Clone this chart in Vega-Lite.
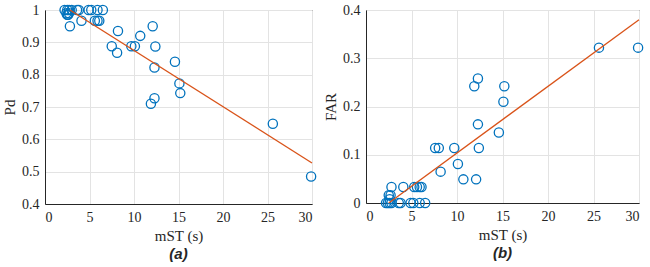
{
  "$schema": "https://vega.github.io/schema/vega-lite/v6.json",
  "background": "white",
  "padding": {"left": 2, "top": 2, "right": 5, "bottom": 0},
  "spacing": 4,
  "config": {
    "view": {"stroke": "#262626", "strokeWidth": 1},
    "axis": {
      "labelFont": "Times New Roman", "labelFontSize": 14, "labelColor": "#262626",
      "titleFont": "Liberation Serif", "titleFontSize": 15, "titleFontWeight": "normal", "titleColor": "#262626",
      "gridColor": "#e3e3e3", "gridWidth": 1, "domainColor": "#262626", "ticks": false, "labelPadding": 6, "labelOverlap": false
    },
    "title": {"font": "Liberation Sans", "fontSize": 15, "fontStyle": "italic", "fontWeight": "bold", "color": "#262626", "orient": "bottom", "frame": "group", "anchor": "middle", "offset": 4}
  },
  "datasets": {
    "pd": [
      {"mST": 2.2, "v": 1.0}, {"mST": 2.5, "v": 1.0}, {"mST": 2.7, "v": 1.0}, {"mST": 3.0, "v": 1.0},
      {"mST": 3.6, "v": 1.0}, {"mST": 3.8, "v": 1.0}, {"mST": 4.9, "v": 1.0}, {"mST": 5.2, "v": 1.0},
      {"mST": 5.9, "v": 1.0}, {"mST": 6.5, "v": 1.0},
      {"mST": 2.4, "v": 0.99}, {"mST": 2.5, "v": 0.985}, {"mST": 2.6, "v": 0.985}, {"mST": 2.7, "v": 0.99},
      {"mST": 2.8, "v": 0.95}, {"mST": 4.1, "v": 0.967},
      {"mST": 5.6, "v": 0.967}, {"mST": 5.9, "v": 0.967}, {"mST": 6.1, "v": 0.967},
      {"mST": 7.5, "v": 0.888}, {"mST": 8.1, "v": 0.868}, {"mST": 8.2, "v": 0.935},
      {"mST": 9.7, "v": 0.888}, {"mST": 10.1, "v": 0.888}, {"mST": 10.7, "v": 0.92},
      {"mST": 12.1, "v": 0.95}, {"mST": 12.4, "v": 0.887}, {"mST": 12.3, "v": 0.822},
      {"mST": 14.6, "v": 0.84}, {"mST": 15.1, "v": 0.773}, {"mST": 15.2, "v": 0.743},
      {"mST": 11.9, "v": 0.71}, {"mST": 12.3, "v": 0.727},
      {"mST": 25.6, "v": 0.648}, {"mST": 29.9, "v": 0.485}
    ],
    "far": [
      {"mST": 25.6, "v": 0.322}, {"mST": 29.9, "v": 0.322},
      {"mST": 12.3, "v": 0.258}, {"mST": 11.9, "v": 0.242}, {"mST": 15.2, "v": 0.242}, {"mST": 15.1, "v": 0.21},
      {"mST": 12.3, "v": 0.163}, {"mST": 14.6, "v": 0.146},
      {"mST": 7.6, "v": 0.114}, {"mST": 8.0, "v": 0.114}, {"mST": 9.7, "v": 0.114}, {"mST": 12.4, "v": 0.114},
      {"mST": 10.1, "v": 0.081}, {"mST": 8.2, "v": 0.065},
      {"mST": 10.7, "v": 0.049}, {"mST": 12.1, "v": 0.049},
      {"mST": 2.8, "v": 0.033}, {"mST": 4.1, "v": 0.033}, {"mST": 5.3, "v": 0.033}, {"mST": 5.6, "v": 0.033},
      {"mST": 5.9, "v": 0.033}, {"mST": 6.1, "v": 0.033},
      {"mST": 2.5, "v": 0.016}, {"mST": 2.7, "v": 0.016}, {"mST": 2.6, "v": 0.008},
      {"mST": 2.2, "v": 0}, {"mST": 2.4, "v": 0}, {"mST": 2.6, "v": 0}, {"mST": 2.8, "v": 0},
      {"mST": 3.6, "v": 0}, {"mST": 3.8, "v": 0}, {"mST": 4.9, "v": 0}, {"mST": 5.2, "v": 0},
      {"mST": 5.9, "v": 0}, {"mST": 6.5, "v": 0}
    ],
    "pdfit": [{"mST": 2.8, "v": 1.0}, {"mST": 30, "v": 0.527}],
    "farfit": [{"mST": 2.5, "v": 0.0}, {"mST": 30, "v": 0.38}]
  },
  "hconcat": [
    {
      "width": 267, "height": 194,
      "title": {"text": "(a)"},
      "encoding": {
        "x": {"field": "mST", "type": "quantitative", "scale": {"domain": [0, 30], "nice": false}, "axis": {"values": [0, 5, 10, 15, 20, 25, 30], "title": "mST (s)", "labelFont": "Times New Roman", "labelOverlap": false}},
        "y": {"field": "v", "type": "quantitative", "scale": {"domain": [0.4, 1], "nice": false, "zero": false}, "axis": {"values": [0.4, 0.5, 0.6, 0.7, 0.8, 0.9, 1], "title": "Pd", "labelFont": "Times New Roman", "labelOverlap": false, "format": "~g"}}
      },
      "layer": [
        {
          "data": {"name": "pd"},
          "mark": {"type": "point", "shape": "circle", "filled": false, "stroke": "#0072BD", "strokeWidth": 1.3, "size": 85, "opacity": 1}
        },
        {
          "data": {"name": "pdfit"},
          "mark": {"type": "line", "color": "#D95319", "strokeWidth": 1.3}
        }
      ]
    },
    {
      "width": 273, "height": 193,
      "title": {"text": "(b)"},
      "encoding": {
        "x": {"field": "mST", "type": "quantitative", "scale": {"domain": [0, 30], "nice": false}, "axis": {"values": [0, 5, 10, 15, 20, 25, 30], "title": "mST (s)", "labelFont": "Times New Roman", "labelOverlap": false}},
        "y": {"field": "v", "type": "quantitative", "scale": {"domain": [0, 0.4], "nice": false}, "axis": {"values": [0, 0.1, 0.2, 0.3, 0.4], "title": "FAR", "labelFont": "Times New Roman", "labelOverlap": false, "format": "~g"}}
      },
      "layer": [
        {
          "data": {"name": "far"},
          "mark": {"type": "point", "shape": "circle", "filled": false, "stroke": "#0072BD", "strokeWidth": 1.3, "size": 85, "opacity": 1}
        },
        {
          "data": {"name": "farfit"},
          "mark": {"type": "line", "color": "#D95319", "strokeWidth": 1.3}
        }
      ]
    }
  ]
}
